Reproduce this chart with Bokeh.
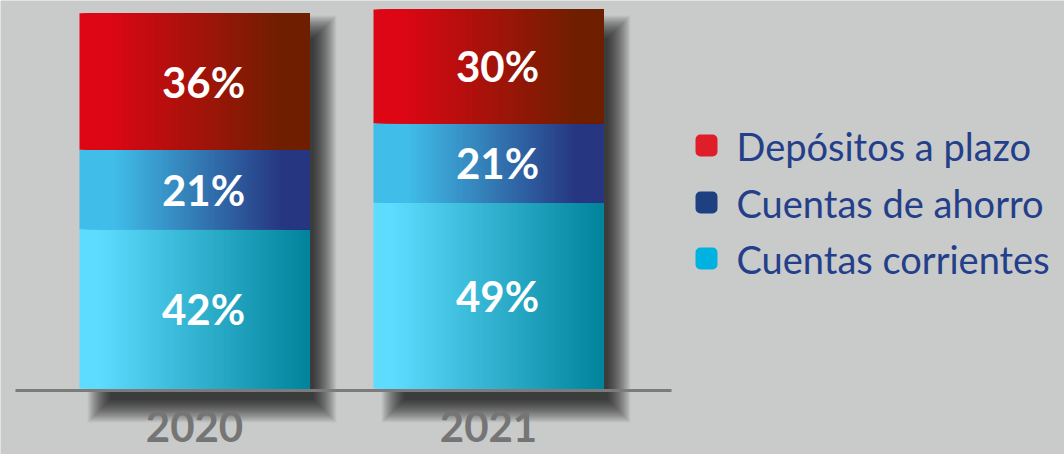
import numpy as np
from bokeh.plotting import figure
from bokeh.models import Range1d
from bokeh.core.properties import value
from bokeh.embed import file_html
from bokeh.resources import INLINE

# ---------------- data ----------------
years = ["2020", "2021"]
corrientes = [42, 49]   # bottom segment
ahorro = [21, 21]       # middle segment
plazo = [36, 30]        # top segment
legend_labels = ["Depósitos a plazo", "Cuentas de ahorro", "Cuentas corrientes"]

# ---------------- layout / style ----------------
W, H = 1064, 454
PX_X, X0 = 294.0, 194.0     # px per category, px of first bar centre
PX_Y, Y0 = 3.79, 66.0       # px per percent, px (from bottom) of zero
BAR_W = 230.0 / PX_X
BG = "#c9caca"

p = figure(width=W, height=H, output_backend="svg", toolbar_location=None,
           x_range=Range1d(-X0 / PX_X, (W - X0) / PX_X),
           y_range=Range1d(-Y0 / PX_Y, (H - Y0) / PX_Y),
           min_border=0, background_fill_color=BG, border_fill_color=BG,
           outline_line_color=None)
p.axis.visible = False
p.grid.visible = False

xs = np.arange(len(years), dtype=float)
b0 = np.zeros(len(years))
b1 = b0 + np.array(corrientes)
b2 = b1 + np.array(ahorro)
b3 = b2 + np.array(plazo)
top_all = np.maximum(b3, 100.0)

# ---- soft drop shadow (layered translucent quads) ----
L, R, A = 30, 24.0, 0.036
for k in range(L):
    r = R * (k + 1) / L
    p.quad(left=xs - BAR_W / 2 + (32.0 - r) / PX_X,
           right=xs + BAR_W / 2 + (3.0 + r) / PX_X,
           bottom=b0 - (10.0 + r) / PX_Y,
           top=top_all - (30.0 - r) / PX_Y,
           fill_color="black", fill_alpha=A, line_color=None)

# ---- baseline ----
p.segment(x0=[(15.0 - X0) / PX_X], x1=[(671.0 - X0) / PX_X],
          y0=[-2.0 / PX_Y], y1=[-2.0 / PX_Y],
          line_color="#7b7b7b", line_width=3)


def lerp(c0, c1, t):
    return "#%02x%02x%02x" % tuple(int(round(a + (b - a) * t)) for a, b in zip(c0, c1))


grads = [
    (b0, b1, (94, 220, 255), (0, 131, 155), 0.08, 1.0),
    (b1, b2, (64, 189, 232), (38, 54, 128), 0.15, 0.88),
    (b2, b3, (221, 6, 21), (111, 31, 0), 0.12, 0.88),
]
N = 70
for bottom, top, c0, c1, r0, r1 in grads:
    for i in range(N):
        f = (i + 0.5) / N
        t = min(max((f - r0) / (r1 - r0), 0.0), 1.0)
        col = lerp(c0, c1, t)
        left = xs - BAR_W / 2 + BAR_W * i / N
        p.quad(left=left, right=xs + BAR_W / 2, bottom=bottom, top=top,
               fill_color=col, line_color=None)

# ---- value labels ----
for bottom, top, vals in [(b0, b1, corrientes), (b1, b2, ahorro), (b2, b3, plazo)]:
    p.text(x=xs, y=(bottom + top) / 2, text=[f"{v}%" for v in vals],
           text_font=value("Lato"), text_font_style="bold", text_font_size="42px",
           text_color="white", text_align="center", text_baseline="middle", x_offset=9)

# ---- year labels ----
p.text(x=xs, y=b0, text=years, text_font=value("Lato"), text_font_style="bold",
       text_font_size="42px", text_color="#757575", text_align="center",
       text_baseline="top", y_offset=22)

# ---- legend ----
leg_colors = ["#e01e2a", "#1f4080", "#00b2e0"]
leg_px = np.array([145.0, 202.0, 258.0])
leg_y = (H - leg_px - Y0) / PX_Y
mx = (706.0 - X0) / PX_X
tx = (736.0 - X0) / PX_X
p.scatter(x=[mx] * 3, y=leg_y, marker="square", size=12, fill_color=leg_colors,
          line_color=leg_colors, line_width=10, line_join="round")
p.text(x=[tx] * 3, y=leg_y, text=legend_labels, text_font=value("Lato"),
       text_font_size="38px", text_color="#243f8a", text_align="left",
       text_baseline="middle")

open("out.html", "w").write(file_html(p, INLINE))
